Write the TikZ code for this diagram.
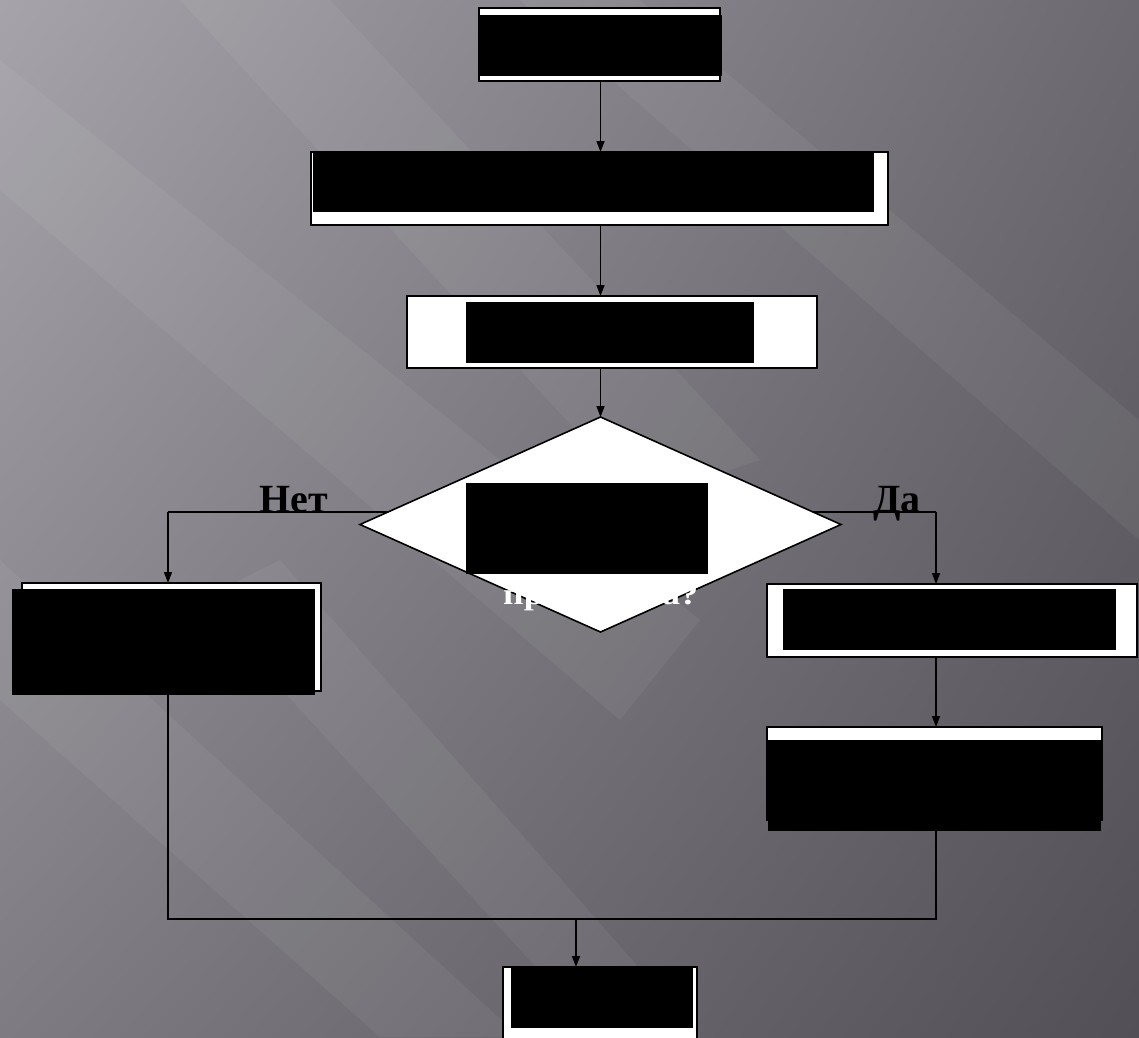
\documentclass[tikz,border=0pt]{standalone}
\usepackage{fontspec}
\setmainfont{Liberation Serif}
\usetikzlibrary{shapes.geometric,arrows.meta,shadings}
\definecolor{bgul}{RGB}{166,164,170}
\definecolor{bgur}{RGB}{108,106,112}
\definecolor{bgll}{RGB}{126,124,130}
\definecolor{bglr}{RGB}{82,80,86}
\tikzset{
  px/.style={x=1pt,y=-1pt},
  wbox/.style={draw=black,line width=1.6pt,fill=white,rectangle,inner sep=0pt,outer sep=0pt},
  wdia/.style={draw=black,line width=1.6pt,fill=white,diamond,inner sep=0pt,outer sep=0pt},
  cover/.style={fill=black},
  conn/.style={draw=black,line width=1.5pt},
  arr/.style={conn,-{Triangle[length=11pt,width=8pt]}},
  lbl/.style={font=\fontsize{40}{42}\selectfont\bfseries,text=black,inner sep=0pt,anchor=base},
  streak/.style={fill=white,opacity=0.05}
}
\begin{document}
\begin{tikzpicture}[px]
\useasboundingbox (0,0) rectangle (1139,1037);
\clip (0,0) rectangle (1139,1037);
% background
\shade[upper left=bgul,upper right=bgur,lower left=bgll,lower right=bglr]
  (0,0) rectangle (1139,1037);
\fill[streak] (0,60) -- (0,190) -- (620,720) -- (700,620) -- cycle;
\fill[streak] (180,0) -- (330,0) -- (760,460) -- (640,500) -- cycle;
\fill[streak] (0,560) -- (0,700) -- (380,1037) -- (520,1037) -- cycle;
\fill[streak] (520,0) -- (640,0) -- (1139,420) -- (1139,540) -- cycle;
\fill[streak] (200,600) -- (280,560) -- (700,1037) -- (600,1037) -- cycle;
% coordinates
\coordinate (nl) at (168,512);
\coordinate (nr) at (936,512);
\coordinate (ml) at (168,919);
\coordinate (mr) at (936,919);
\coordinate (mm) at (576,919);
% horizontal branch line behind the diamond
\draw[conn] (nl) -- (nr);
% boxes
\node[wbox,minimum width=241pt,minimum height=73pt] (start) at (599.5,44.5) {};
\node[wbox,minimum width=577pt,minimum height=73pt] (b2) at (599.5,188.5) {};
\node[wbox,minimum width=410pt,minimum height=72pt] (b3) at (612,332) {};
\node[wdia,minimum width=481pt,minimum height=215pt] (dia) at (600.5,524.5) {};
\node[wbox,minimum width=299pt,minimum height=108pt] (left) at (171.5,637) {};
\node[wbox,minimum width=370pt,minimum height=73pt] (r1) at (952,620.5) {};
\node[wbox,minimum width=335pt,minimum height=93pt] (r2) at (934.5,773.5) {};
\node[wbox,minimum width=194pt,minimum height=90pt] (end) at (600,1012) {};
% white question text (mostly hidden on the white diamond)
\node[font=\fontsize{30}{32}\selectfont\bfseries,text=white,inner sep=0pt,anchor=base west,xscale=1.2] (q) at (503,604) {правильна?};
% labels
\node[lbl] (no) at (294,512) {Нет};
\node[lbl] (yes) at (897,512) {Да};
% black covers
\fill[cover] (479,15) rectangle (722,76);
\fill[cover] (313,151) rectangle (874,212);
\fill[cover] (466,302) rectangle (754,363);
\fill[cover] (466,483) rectangle (708,574);
\fill[cover] (12,589) rectangle (315,695);
\fill[cover] (783,589) rectangle (1116,650);
\fill[cover] (768,740) rectangle (1101,831);
\fill[cover] (511,967) rectangle (693,1028);
% connectors
\draw[arr] (start.south -| dia.north) -- (b2.north -| dia.north);
\draw[arr] (b2.south -| dia.north) -- (b3.north -| dia.north);
\draw[arr] (b3.south -| dia.north) -- (dia.north);
\draw[arr] (nl) -- (left.north -| nl);
\draw[arr] (nr) -- (r1.north -| nr);
\draw[arr] (r1.south -| nr) -- (r2.north -| nr);
\draw[conn] (left.south -| nl) -- (ml) -- (mr) -- (r2.south -| nr);
\draw[arr] (mm) -- (end.north -| mm);
\end{tikzpicture}
\end{document}
